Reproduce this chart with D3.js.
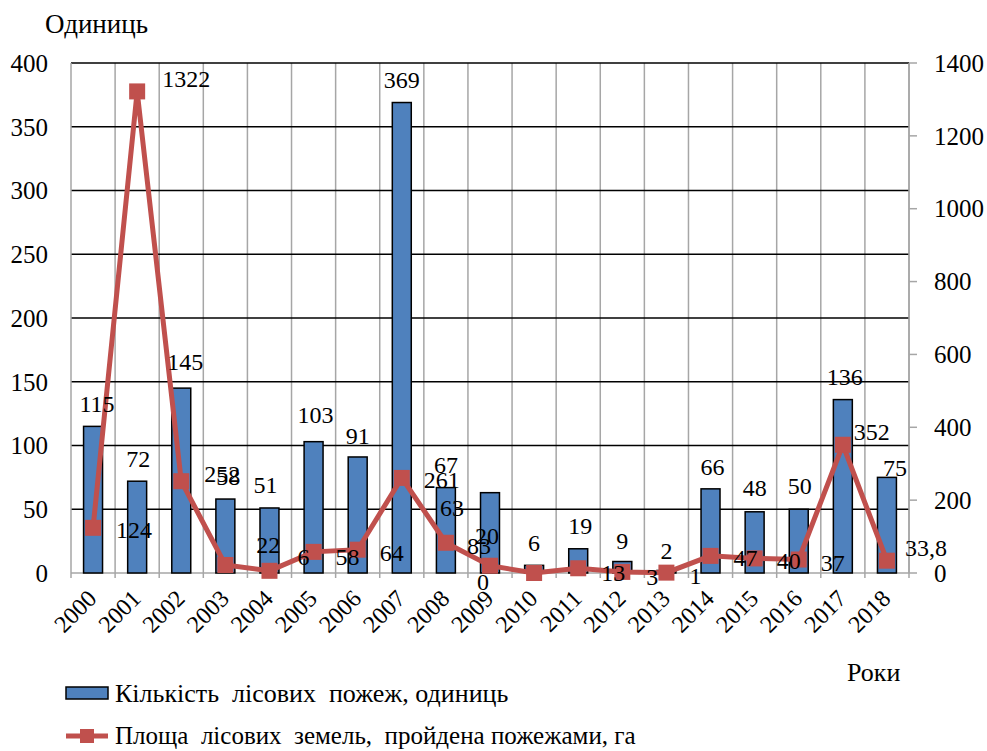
<!DOCTYPE html>
<html>
<head>
<meta charset="utf-8">
<script src="https://cdn.jsdelivr.net/npm/d3@7"></script>
<style>
  body { margin: 0; background: #fff; }
</style>
</head>
<body>
<script>
// data
const years = ['2000','2001','2002','2003','2004','2005','2006','2007','2008','2009',
  '2010','2011','2012','2013','2014','2015','2016','2017','2018'];
const fires = [115, 72, 145, 58, 51, 103, 91, 369, 67, 63, 6, 19, 9, 2, 66, 48, 50, 136, 75];
const area = [124, 1322, 252, 22, 6, 58, 64, 261, 83, 20, 0, 13, 3, 1, 47, 40, 37, 352, 33.8];
const leftTicks = [0, 50, 100, 150, 200, 250, 300, 350, 400];
const rightTicks = [0, 200, 400, 600, 800, 1000, 1200, 1400];

// hand placed label nudges (the original has them moved around by hand)
const barLabelDx = [4, 1, 4, 3, -4, 2, 0, 0, 0, -38, 0, 2, 0, 0, 2, 0, 1, 2, 8];
const barLabelDy = [0, 0, -4, 1, 0, -4, 2, 0, 0, 38, 0, 0, 2, 3, 1, -1, -1, 0, 13];
const lineLabelDx = [41, 49, 41, 43, 34, 34, 34, 40, 33, -3, -51, 35, 30, 29, 35, 34, 34, 29, 39];
const lineLabelDy = [2, -13, -8, -20, -14, 5, 3, 2, 3, -30, 9, 4, 5, 3, 2, 2, 3, -13, -13];

const W = 987, H = 751;
const plotL = 71, plotR = 909, plotT = 63, plotB = 573;
const blue = '#4f81bd', red = '#c0504d';

const svg = d3.select('body').append('svg').attr('width', W).attr('height', H);

const pad = 0.57;
const x = d3.scaleBand().domain(years).range([plotL, plotR])
  .paddingInner(pad).paddingOuter(pad / 2);
const step = x.step();
const cx = d => x(d) + x.bandwidth() / 2;
const yL = d3.scaleLinear().domain([0, 400]).range([plotB, plotT]);
const yR = d3.scaleLinear().domain([0, 1400]).range([plotB, plotT]);

// vertical grid at category edges
svg.append('g').selectAll('line').data(years).enter().append('line')
  .attr('x1', d => x(d) - step * pad / 2 + step).attr('x2', d => x(d) - step * pad / 2 + step)
  .attr('y1', plotT).attr('y2', plotB + 5)
  .attr('stroke', '#a6a6a6').attr('stroke-width', 1.5);

// horizontal grid
svg.append('g').selectAll('line').data(leftTicks.filter(t => t > 0)).enter().append('line')
  .attr('x1', plotL).attr('x2', plotR)
  .attr('y1', d => yL(d)).attr('y2', d => yL(d))
  .attr('stroke', '#000').attr('stroke-width', 1.5);

// axes lines
svg.append('line').attr('x1', plotL).attr('x2', plotL).attr('y1', plotT).attr('y2', plotB)
  .attr('stroke', '#a6a6a6').attr('stroke-width', 1.5);
svg.append('line').attr('x1', plotR).attr('x2', plotR).attr('y1', plotT).attr('y2', plotB)
  .attr('stroke', '#a6a6a6').attr('stroke-width', 1.5);
svg.append('line').attr('x1', plotL).attr('x2', plotR).attr('y1', plotB).attr('y2', plotB)
  .attr('stroke', '#a6a6a6').attr('stroke-width', 1.5);
svg.append('line').attr('x1', plotL).attr('x2', plotL).attr('y1', plotB).attr('y2', plotB + 5)
  .attr('stroke', '#a6a6a6').attr('stroke-width', 1.5);

// right axis ticks
svg.append('g').selectAll('line').data(rightTicks).enter().append('line')
  .attr('x1', plotR).attr('x2', plotR + 8)
  .attr('y1', d => yR(d)).attr('y2', d => yR(d))
  .attr('stroke', '#a6a6a6').attr('stroke-width', 1.5);

// tick labels
svg.append('g').selectAll('text').data(leftTicks).enter().append('text')
  .attr('x', 48).attr('y', d => yL(d)).attr('dy', '0.35em')
  .attr('text-anchor', 'end').style('font-size', '25px').text(d => d);
svg.append('g').selectAll('text').data(rightTicks).enter().append('text')
  .attr('x', 934).attr('y', d => yR(d)).attr('dy', '0.35em')
  .style('font-size', '25px').text(d => d);
svg.append('g').selectAll('text').data(years).enter().append('text')
  .attr('transform', d => `translate(${cx(d) + 5},${plotB + 27}) rotate(-45)`)
  .attr('text-anchor', 'end').style('font-size', '24px').text(d => d);

// bars
svg.append('g').selectAll('rect').data(fires).enter().append('rect')
  .attr('x', (d, i) => x(years[i])).attr('width', x.bandwidth())
  .attr('y', d => yL(d)).attr('height', d => plotB - yL(d))
  .attr('fill', blue).attr('stroke', '#000').attr('stroke-width', 1.5);

// line + markers
const line = d3.line().x((d, i) => cx(years[i])).y(d => yR(d));
svg.append('path').datum(area).attr('d', line)
  .attr('fill', 'none').attr('stroke', red).attr('stroke-width', 5);
svg.append('g').selectAll('rect').data(area).enter().append('rect')
  .attr('x', (d, i) => cx(years[i]) - 8).attr('y', d => yR(d) - 8)
  .attr('width', 16).attr('height', 16).attr('fill', red);

// data labels
const fmt = v => String(v).replace('.', ',');
svg.append('g').selectAll('text').data(fires).enter().append('text')
  .attr('x', (d, i) => cx(years[i]) + barLabelDx[i])
  .attr('y', (d, i) => yL(d) - 23 + barLabelDy[i]).attr('dy', '0.35em')
  .attr('text-anchor', 'middle').style('font-size', '24px').text(fmt);
svg.append('g').selectAll('text').data(area).enter().append('text')
  .attr('x', (d, i) => cx(years[i]) + lineLabelDx[i])
  .attr('y', (d, i) => yR(d) + lineLabelDy[i]).attr('dy', '0.35em')
  .attr('text-anchor', 'middle').style('font-size', '24px').text(fmt);

// axis titles
svg.append('text').attr('x', 45).attr('y', 24).attr('dy', '0.35em')
  .style('font-size', '27px').text('Одиниць');
svg.append('text').attr('x', 847).attr('y', 672).attr('dy', '0.35em')
  .style('font-size', '26px').text('Роки');

// legend
const lg = svg.append('g');
lg.append('rect').attr('x', 66).attr('y', 687).attr('width', 42).attr('height', 12)
  .attr('fill', blue).attr('stroke', '#000').attr('stroke-width', 1.5);
lg.append('text').attr('x', 115).attr('y', 693).attr('dy', '0.35em')
  .style('font-size', '26px').style('white-space', 'pre')
  .text('Кількість  лісових  пожеж, одиниць');
lg.append('line').attr('x1', 66).attr('x2', 108).attr('y1', 736).attr('y2', 736)
  .attr('stroke', red).attr('stroke-width', 5);
lg.append('rect').attr('x', 80).attr('y', 729).attr('width', 14).attr('height', 14).attr('fill', red);
lg.append('text').attr('x', 115).attr('y', 736).attr('dy', '0.33em')
  .style('font-size', '25px').style('white-space', 'pre')
  .text('Площа  лісових  земель,  пройдена пожежами, га');

// serif everywhere, set on each text node
svg.selectAll('text').style('font-family', '"Liberation Serif"').style('fill', '#000');
</script>
</body>
</html>
